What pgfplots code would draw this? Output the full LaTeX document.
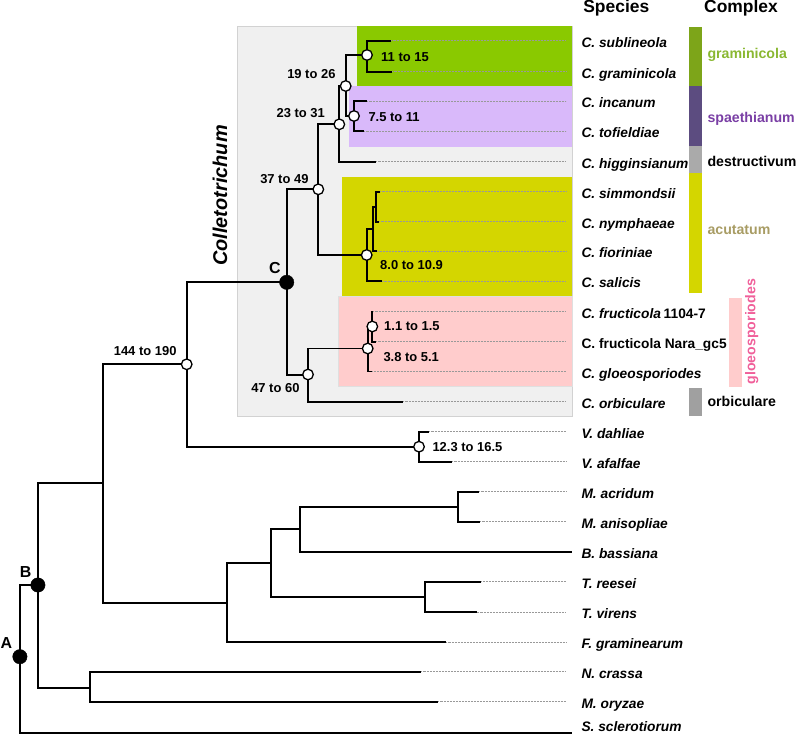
\documentclass[border=0pt]{standalone}
\usepackage{pgfplots}
\pgfplotsset{compat=1.18}
\usepackage{fontspec}
\setmainfont{Liberation Sans}
\definecolor{boxgrey}{RGB}{240,240,240}
\definecolor{boxedge}{RGB}{210,210,210}
\definecolor{gramfill}{RGB}{138,201,0}
\definecolor{spafill}{RGB}{217,185,250}
\definecolor{acufill}{RGB}{212,214,0}
\definecolor{gloefill}{RGB}{255,204,204}
\definecolor{grambar}{RGB}{125,165,25}
\definecolor{spabar}{RGB}{92,76,128}
\definecolor{destbar}{RGB}{170,170,170}
\definecolor{orbbar}{RGB}{160,160,160}
\definecolor{gramtxt}{RGB}{138,184,50}
\definecolor{spatxt}{RGB}{122,63,165}
\definecolor{acutxt}{RGB}{168,156,100}
\definecolor{gloetxt}{RGB}{240,96,154}
\newcommand{\spc}[1]{{\fontsize{13.8}{16}\selectfont\bfseries\itshape #1}}
\newcommand{\spn}[1]{{\fontsize{13.8}{16}\selectfont\bfseries #1}}
\newcommand{\nl}[1]{{\fontsize{13}{15}\selectfont\bfseries #1}}
\newcommand{\cx}[1]{{\fontsize{14.2}{16}\selectfont\bfseries #1}}
\begin{document}
\begin{tikzpicture}
\begin{axis}[width=796bp,height=734bp,scale only axis,
  xmin=0,xmax=796,ymin=0,ymax=734,y dir=reverse,hide axis,clip=false,
  br/.style={black,line width=1.8bp,no markers,line join=miter},
  dt/.style={gray!80,line width=0.5bp,densely dotted,no markers}]
% background boxes
\addplot[fill=boxgrey,draw=boxedge,line width=0.8bp] coordinates {(237.3,26) (572.3,26) (572.3,416.7) (237.3,416.7)} -- cycle;
\addplot[fill=gramfill,draw=none] coordinates {(356.7,26) (572.3,26) (572.3,86) (356.7,86)} -- cycle;
\addplot[fill=spafill,draw=none] coordinates {(349.3,86) (572.3,86) (572.3,146.7) (349.3,146.7)} -- cycle;
\addplot[fill=acufill,draw=none] coordinates {(342.3,176.7) (572.3,176.7) (572.3,296) (342.3,296)} -- cycle;
\addplot[fill=gloefill,draw=boxedge!70,line width=0.5bp] coordinates {(338.3,296) (572.3,296) (572.3,386.7) (338.3,386.7)} -- cycle;
% complex bars
\addplot[fill=grambar,draw=none] coordinates {(689.3,26.7) (701.7,26.7) (701.7,86) (689.3,86)} -- cycle;
\addplot[fill=spabar,draw=none] coordinates {(689.3,86) (701.7,86) (701.7,146) (689.3,146)} -- cycle;
\addplot[fill=destbar,draw=none] coordinates {(689.3,146) (701.7,146) (701.7,173.3) (689.3,173.3)} -- cycle;
\addplot[fill=acufill,draw=none] coordinates {(689.3,173.3) (701.7,173.3) (701.7,293.3) (689.3,293.3)} -- cycle;
\addplot[fill=gloefill,draw=none] coordinates {(729.3,298.3) (741.7,298.3) (741.7,387.3) (729.3,387.3)} -- cycle;
\addplot[fill=orbbar,draw=none] coordinates {(689.3,388.3) (701.7,388.3) (701.7,416) (689.3,416)} -- cycle;
% dotted leaders
\addplot[dt] coordinates {(391,40.7) (566,40.7)};
\addplot[dt] coordinates {(392,71.7) (566,71.7)};
\addplot[dt] coordinates {(367,101) (566,101)};
\addplot[dt] coordinates {(364,131) (566,131)};
\addplot[dt] coordinates {(376,161.7) (566,161.7)};
\addplot[dt] coordinates {(380,191.7) (566,191.7)};
\addplot[dt] coordinates {(379,221.7) (566,221.7)};
\addplot[dt] coordinates {(377,251) (566,251)};
\addplot[dt] coordinates {(382,281) (566,281)};
\addplot[dt] coordinates {(373,311.7) (566,311.7)};
\addplot[dt] coordinates {(376,341.7) (566,341.7)};
\addplot[dt] coordinates {(372.3,371.5) (566,371.5)};
\addplot[dt] coordinates {(403,401.7) (566,401.7)};
\addplot[dt] coordinates {(429,431.7) (566,431.7)};
\addplot[dt] coordinates {(452,461.7) (566,461.7)};
\addplot[dt] coordinates {(479,491.7) (566,491.7)};
\addplot[dt] coordinates {(480,521.7) (566,521.7)};
\addplot[dt] coordinates {(481.4,581.7) (566,581.7)};
\addplot[dt] coordinates {(476.5,612) (566,612)};
\addplot[dt] coordinates {(446,642.3) (566,642.3)};
\addplot[dt] coordinates {(421,671.7) (566,671.7)};
\addplot[dt] coordinates {(438,701.7) (566,701.7)};
% tree branches
\addplot[br] coordinates {(37.9,585) (19.9,585) (19.9,732.7) (572,732.7)};
\addplot[br] coordinates {(103,483.3) (37.9,483.3) (37.9,687.7) (90,687.7)};
\addplot[br] coordinates {(421,671.7) (90,671.7) (90,701.7) (438,701.7)};
\addplot[br] coordinates {(186.7,364.3) (103,364.3) (103,602.7) (227.3,602.7)};
\addplot[br] coordinates {(271,562.7) (227.3,562.7) (227.3,642.3) (445.8,642.3)};
\addplot[br] coordinates {(299.7,529.3) (271,529.3) (271,597) (424.8,597)};
\addplot[br] coordinates {(458,507) (299.7,507) (299.7,551.7) (572,551.7)};
\addplot[br] coordinates {(479,491.7) (458,491.7) (458,521.7) (480,521.7)};
\addplot[br] coordinates {(481.4,581.7) (424.8,581.7) (424.8,612) (476.5,612)};
\addplot[br] coordinates {(286.7,282.3) (186.7,282.3) (186.7,446.7) (419,446.7)};
\addplot[br] coordinates {(429,431.7) (419,431.7) (419,461.7) (451.7,461.7)};
\addplot[br] coordinates {(318.3,189.3) (287,189.3) (287,375) (308,375)};
\addplot[br] coordinates {(367.7,348.5) (308,348.5) (308,401.7) (402.7,401.7)};
\addplot[br] coordinates {(372.3,326.5) (367.7,326.5) (367.7,371.5) (372.3,371.5)};
\addplot[br] coordinates {(373,311.7) (372.3,311.7) (372.3,341.7) (375.7,341.7)};
\addplot[br] coordinates {(366.7,255) (318.3,255) (318.3,124.3) (339.3,124.3)};
\addplot[br] coordinates {(346,86) (339.3,86) (339.3,161.7) (375.7,161.7)};
\addplot[br] coordinates {(366.7,55) (346,55) (346,116) (354,116)};
\addplot[br] coordinates {(390.7,40.7) (367,40.7) (367,71.7) (391.7,71.7)};
\addplot[br] coordinates {(366.7,101) (354,101) (354,131) (364,131)};
\addplot[br] coordinates {(381.7,281) (366.7,281) (366.7,229.3) (373.3,229.3)};
\addplot[br] coordinates {(376,206.7) (373.3,206.7) (373.3,251) (376.7,251)};
\addplot[br] coordinates {(380,191.7) (376,191.7) (376,221.7) (379,221.7)};
% nodes
\addplot[only marks,mark=*,mark size=5.3bp,mark options={fill=white,draw=black,line width=1.3bp}] coordinates {
(367,55) (345.7,86) (354,116) (339.3,124.3) (318.3,189.3) (366.7,255) (372.3,326.5) (367.7,348.5) (308,374.5) (186.7,364.3) (419,446.7)};
\addplot[only marks,mark=*,mark size=7.2bp,mark options={fill=black,draw=black}] coordinates {
(19.9,656.7) (37.9,585) (286.7,282.3)};
% node labels
\node[anchor=base east] at (axis cs:180,355.6) {\nl{144 to 190}};
\node[anchor=base east] at (axis cs:303,392.3) {\nl{47 to 60}};
\node[anchor=base east] at (axis cs:312,183.9) {\nl{37 to 49}};
\node[anchor=base east] at (axis cs:328.3,117.3) {\nl{23 to 31}};
\node[anchor=base east] at (axis cs:339,78.9) {\nl{19 to 26}};
\node[anchor=base west] at (axis cs:377.7,61.3) {\nl{11 to 15}};
\node[anchor=base west] at (axis cs:365,121.9) {\nl{7.5 to 11}};
\node[anchor=base west] at (axis cs:376.7,269.6) {\nl{8.0 to 10.9}};
\node[anchor=base west] at (axis cs:380.7,330.3) {\nl{1.1 to 1.5}};
\node[anchor=base west] at (axis cs:380,361.3) {\nl{3.8 to 5.1}};
\node[anchor=base west] at (axis cs:429,451.3) {\nl{12.3 to 16.5}};
\node[anchor=center] at (axis cs:6.5,642.7) {\fontsize{16}{18}\selectfont\bfseries A};
\node[anchor=center] at (axis cs:25.6,571.7) {\fontsize{16}{18}\selectfont\bfseries B};
\node[anchor=center] at (axis cs:275,268.3) {\fontsize{16}{18}\selectfont\bfseries C};
\node[rotate=90,anchor=center] at (axis cs:220,195.5) {\fontsize{20}{22}\selectfont\bfseries\itshape Colletotrichum};
% headers
\node[anchor=base] at (axis cs:616.3,12.9) {\fontsize{17.5}{19}\selectfont\bfseries Species};
\node[anchor=base] at (axis cs:741,12.9) {\fontsize{17.5}{19}\selectfont\bfseries Complex};
% species
\node[anchor=base west] at (axis cs:578,47.3) {\spc{C. sublineola}};
\node[anchor=base west] at (axis cs:578,78.3) {\spc{C. graminicola}};
\node[anchor=base west] at (axis cs:578,107.6) {\spc{C. incanum}};
\node[anchor=base west] at (axis cs:578,137.6) {\spc{C. tofieldiae}};
\node[anchor=base west] at (axis cs:578,168.3) {\spc{C. higginsianum}};
\node[anchor=base west] at (axis cs:578,198.3) {\spc{C. simmondsii}};
\node[anchor=base west] at (axis cs:578,228.3) {\spc{C. nymphaeae}};
\node[anchor=base west] at (axis cs:578,257.6) {\spc{C. fioriniae}};
\node[anchor=base west] at (axis cs:578,287.6) {\spc{C. salicis}};
\node[anchor=base west] at (axis cs:578,318.3) {\spc{C. fructicola} \spn{1104-7}};
\node[anchor=base west] at (axis cs:578,348.3) {\spn{C. fructicola Nara\_gc5}};
\node[anchor=base west] at (axis cs:578,378.1) {\spc{C. gloeosporiodes}};
\node[anchor=base west] at (axis cs:578,408.3) {\spc{C. orbiculare}};
\node[anchor=base west] at (axis cs:578,438.3) {\spc{V. dahliae}};
\node[anchor=base west] at (axis cs:578,468.3) {\spc{V. afalfae}};
\node[anchor=base west] at (axis cs:578,498.3) {\spc{M. acridum}};
\node[anchor=base west] at (axis cs:578,528.3) {\spc{M. anisopliae}};
\node[anchor=base west] at (axis cs:578,558.3) {\spc{B. bassiana}};
\node[anchor=base west] at (axis cs:578,588.3) {\spc{T. reesei}};
\node[anchor=base west] at (axis cs:578,618.6) {\spc{T. virens}};
\node[anchor=base west] at (axis cs:578,648.9) {\spc{F. graminearum}};
\node[anchor=base west] at (axis cs:578,678.3) {\spc{N. crassa}};
\node[anchor=base west] at (axis cs:578,708.3) {\spc{M. oryzae}};
\node[anchor=base west] at (axis cs:578,731.5) {\spc{S. sclerotiorum}};
% complexes
\node[anchor=base west,text=gramtxt] at (axis cs:704,58.3) {\cx{graminicola}};
\node[anchor=base west,text=spatxt] at (axis cs:704,123) {\cx{spaethianum}};
\node[anchor=base west] at (axis cs:704,166.7) {\cx{destructivum}};
\node[anchor=base west,text=acutxt] at (axis cs:704,234.3) {\cx{acutatum}};
\node[anchor=base west] at (axis cs:704,406.7) {\cx{orbiculare}};
\node[rotate=90,anchor=center,text=gloetxt] at (axis cs:751.7,331.7) {\cx{gloeosporiodes}};
\end{axis}
\pgfresetboundingbox
\path (current axis.south west) rectangle (current axis.north east);
\end{tikzpicture}
\end{document}
